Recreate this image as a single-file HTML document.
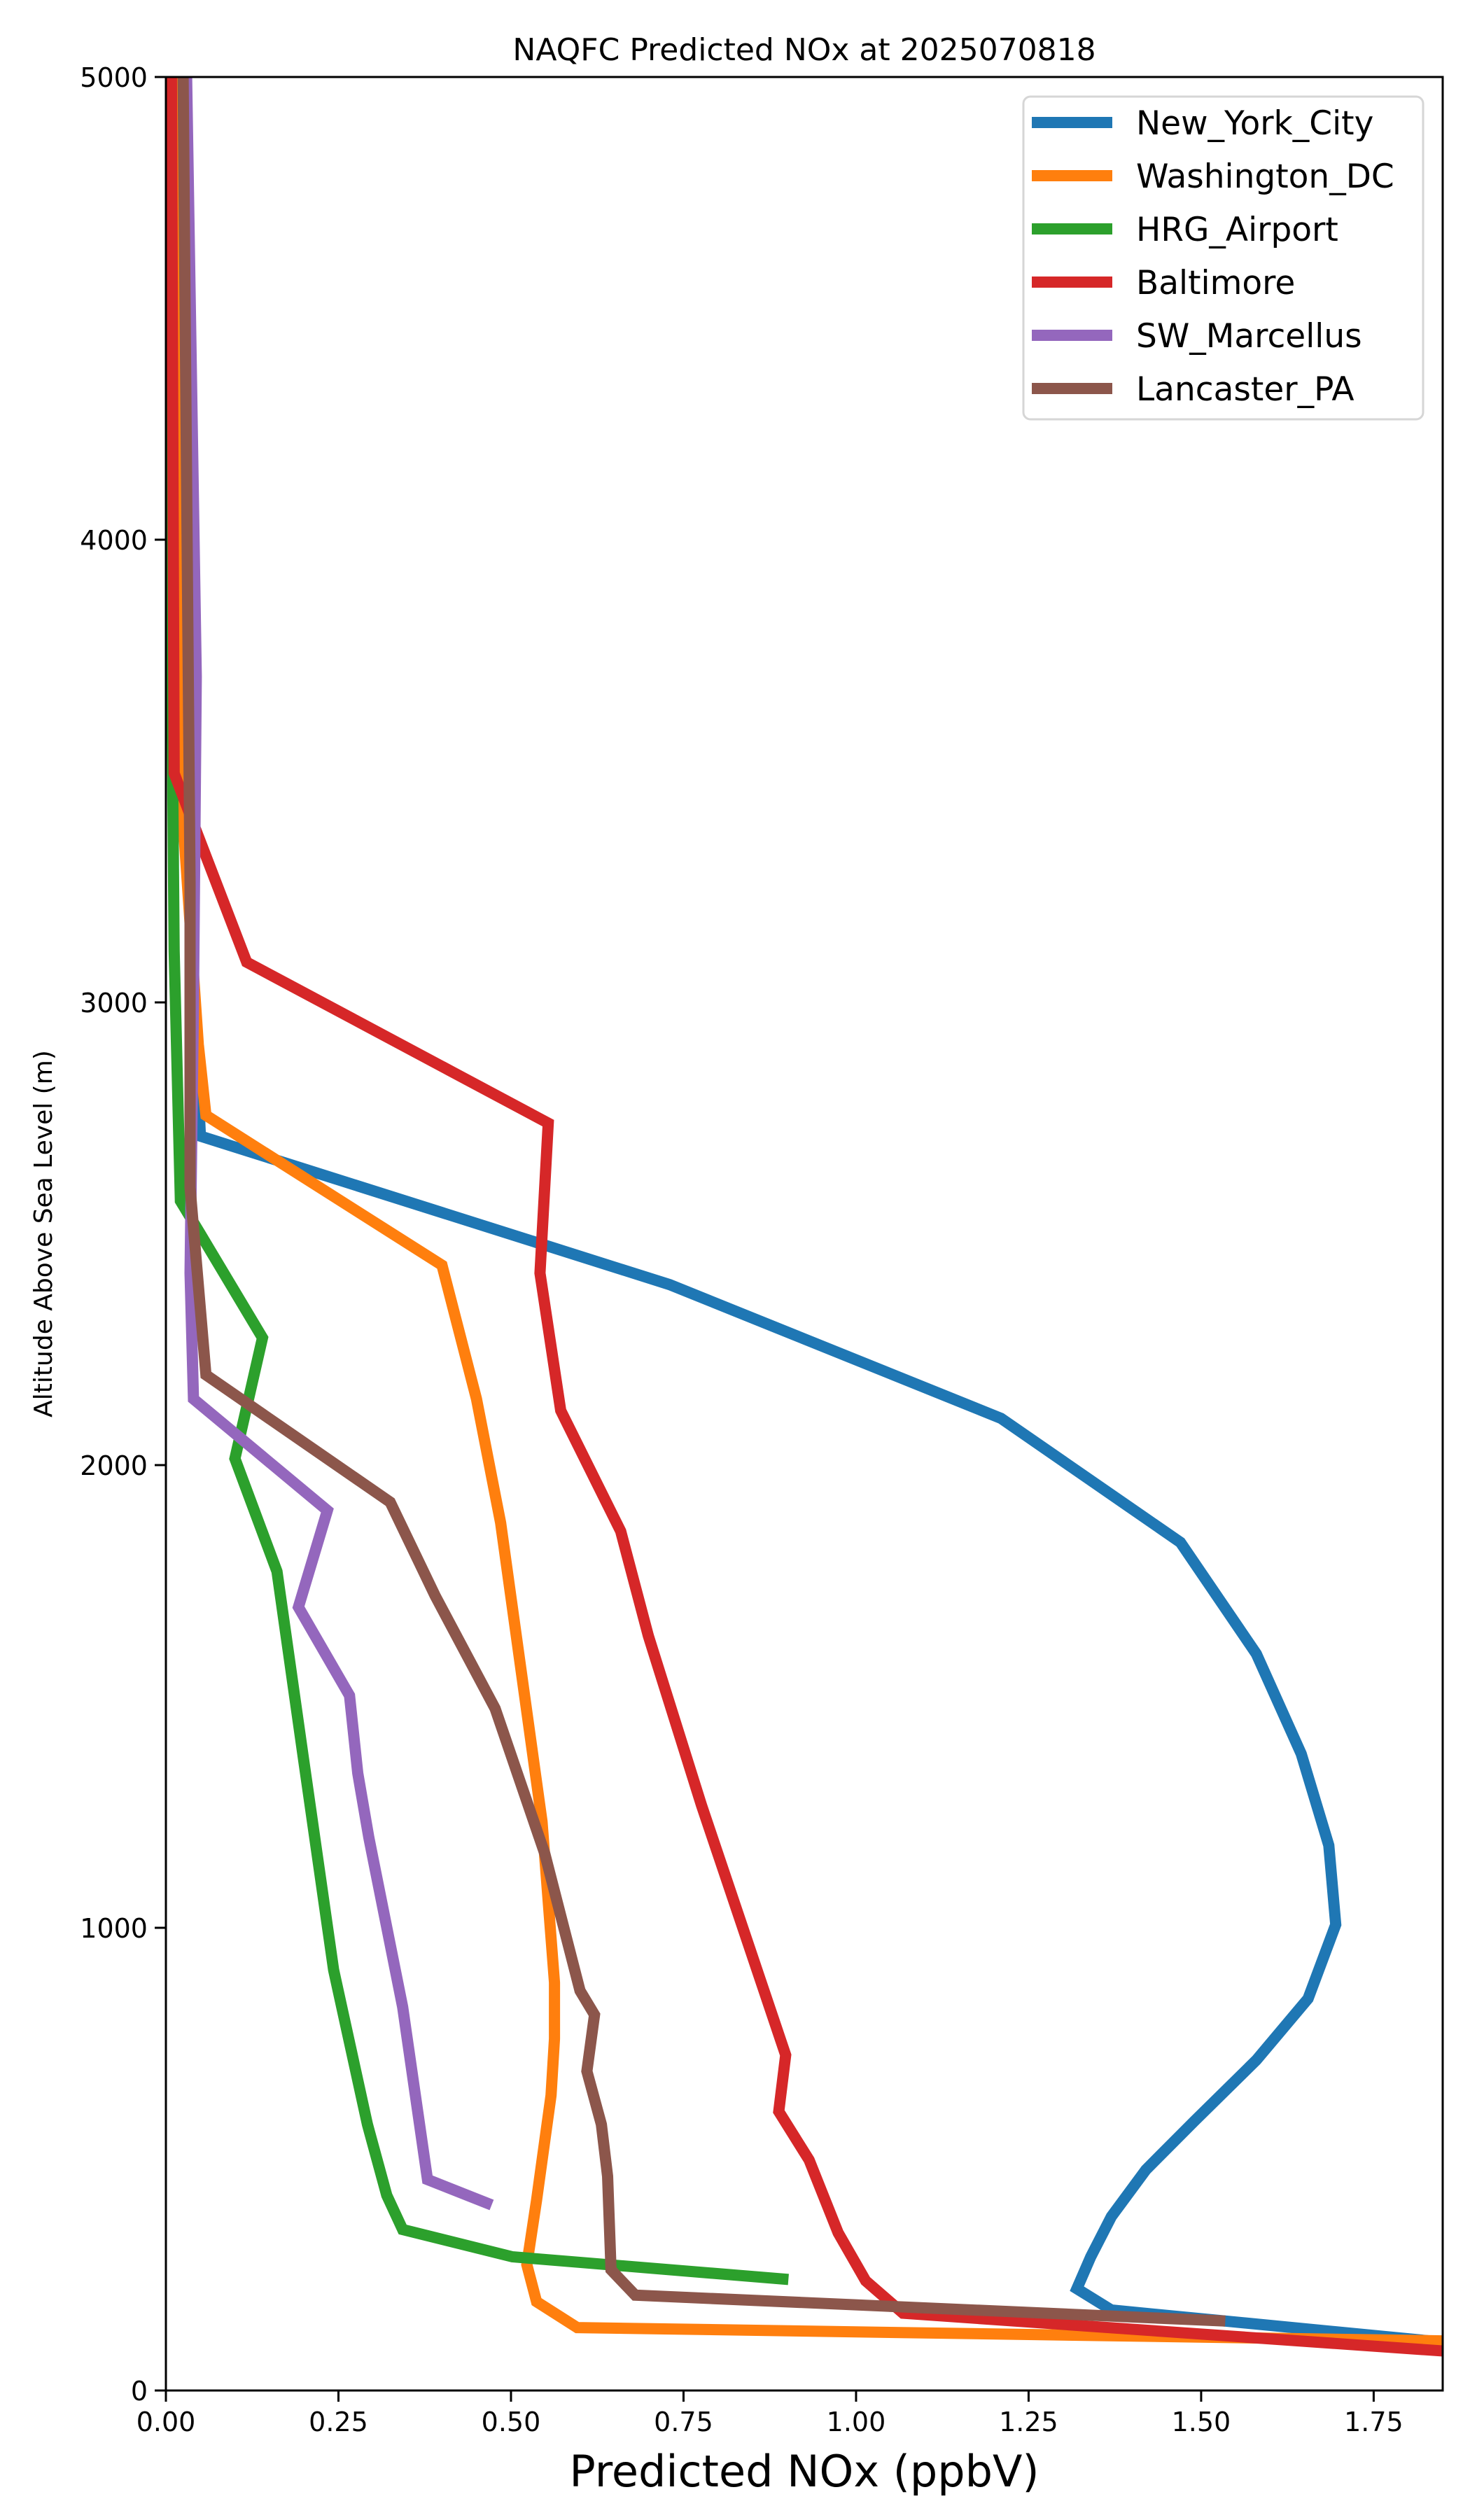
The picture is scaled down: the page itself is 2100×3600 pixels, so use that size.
<!DOCTYPE html>
<html><head><meta charset="utf-8"><style>body{margin:0;background:#fff}svg{display:block}text{font-family:"DejaVu Sans","Liberation Sans",sans-serif}</style></head>
<body>
<svg id="chart" width="2100" height="3600" xmlns="http://www.w3.org/2000/svg">
<g id="plot"></g>
</svg>
<script>
const seriesNames = ["New_York_City","Washington_DC","HRG_Airport","Baltimore","SW_Marcellus","Lancaster_PA"];
const seriesColors = ["#1f77b4","#ff7f0e","#2ca02c","#d62728","#9467bd","#8c564b"];
const nycX = [0.02,0.025,0.05,0.73,1.21,1.47,1.58,1.645,1.685,1.695,1.655,1.58,1.49,1.42,1.37,1.34,1.32,1.37,1.95];
const nycY = [5000,3500,2711,2390,2101,1833,1592,1376,1178,1007,847,714,582,477,376,289,220,174,90];
const dcX = [0.015,0.02,0.047,0.058,0.40,0.45,0.485,0.545,0.563,0.563,0.558,0.537,0.523,0.537,0.596,1.95];
const dcY = [5000,3500,2909,2756,2432,2143,1875,1230,882,760,638,411,272,192,136,105];
const hrgX = [0.005,0.01,0.012,0.021,0.049,0.14,0.10,0.161,0.199,0.243,0.292,0.32,0.343,0.502,0.902];
const hrgY = [5000,3450,3111,2571,2502,2275,2014,1770,1369,909,575,422,348,289,240];
const balX = [0.008,0.012,0.117,0.554,0.542,0.572,0.659,0.699,0.776,0.898,0.888,0.932,0.974,1.014,1.068,1.95];
const balY = [5000,3495,3087,2739,2415,2118,1857,1631,1265,725,603,498,341,237,167,75];
const swmX = [0.03,0.044,0.04,0.035,0.04,0.234,0.192,0.266,0.278,0.294,0.343,0.379,0.472];
const swmY = [5000,3704,3000,2415,2143,1902,1693,1502,1334,1195,829,456,401];
const lanX = [0.025,0.035,0.035,0.058,0.325,0.39,0.477,0.549,0.60,0.621,0.61,0.631,0.64,0.645,0.68,1.535];
const lanY = [5000,3258,2600,2195,1920,1718,1474,1160,864,812,690,575,463,261,206,150];
const xTicks = [0,0.25,0.5,0.75,1.0,1.25,1.5,1.75];
const xTickLabels = ["0.00","0.25","0.50","0.75","1.00","1.25","1.50","1.75"];
const yTicks = [0,1000,2000,3000,4000,5000];
const yTickLabels = ["0","1000","2000","3000","4000","5000"];

const L=237,R=2061,T=110,B=3415,XMAX=1.85,YMAX=5000;
const sx=v=>L+(v/XMAX)*(R-L);
const sy=v=>B-(v/YMAX)*(B-T);
const NS="http://www.w3.org/2000/svg";
const svg=document.getElementById('chart');
function mk(tag,attrs,parent){const e=document.createElementNS(NS,tag);for(const k in attrs)e.setAttribute(k,attrs[k]);(parent||svg).appendChild(e);return e;}
const defs=mk('defs',{});
const cp=mk('clipPath',{id:'clip'},defs);
mk('rect',{x:L,y:T,width:R-L,height:B-T},cp);
const g=mk('g',{'clip-path':'url(#clip)'});


const allX=[nycX,dcX,hrgX,balX,swmX,lanX];
const allY=[nycY,dcY,hrgY,balY,swmY,lanY];
allX.forEach((xs,i)=>{
  const d=xs.map((x,j)=>(j?'L':'M')+sx(x).toFixed(1)+','+sy(allY[i][j]).toFixed(1)).join('');
  const p=mk('path',{d:d,fill:'none',stroke:seriesColors[i],'stroke-width':16,'stroke-linejoin':'miter','stroke-linecap':'butt'},g);
  
  
});
const frame=mk('rect',{x:L,y:T,width:R-L,height:B-T,fill:'none',stroke:'#000','stroke-width':3});


xTicks.forEach((v,i)=>{
  const t=mk('line',{x1:sx(v),x2:sx(v),y1:B,y2:B+16,stroke:'#000','stroke-width':3});
  
  
  const tx=mk('text',{x:sx(v),y:B+58,'font-size':38,'text-anchor':'middle'});
  
  
  tx.textContent=xTickLabels[i];
});
yTicks.forEach((v,i)=>{
  const t=mk('line',{x1:L-16,x2:L,y1:sy(v),y2:sy(v),stroke:'#000','stroke-width':3});
  
  
  const tx=mk('text',{x:L-26,y:sy(v)+14,'font-size':38,'text-anchor':'end'});
  
  
  tx.textContent=yTickLabels[i];
});
const title=mk('text',{x:(L+R)/2,y:86,'font-size':44,'text-anchor':'middle'});


title.textContent='NAQFC Predicted NOx at 2025070818';
const xl=mk('text',{x:(L+R)/2,y:3552,'font-size':62,'text-anchor':'middle'});


xl.textContent='Predicted NOx (ppbV)';
const yl=mk('text',{x:0,y:0,'font-size':36,'text-anchor':'middle',transform:'translate(74,'+((T+B)/2)+') rotate(-90)'});


yl.textContent='Altitude Above Sea Level (m)';
const lg=mk('g',{});


mk('rect',{x:1462,y:138,width:571,height:461,rx:10,fill:'#fff','fill-opacity':0.8,stroke:'#d6d6d6','stroke-width':3},lg);
seriesNames.forEach((n,i)=>{
  const y=175+i*76;
  const e=mk('g',{},lg);
  
  
  mk('line',{x1:1474,x2:1589,y1:y,y2:y,stroke:seriesColors[i],'stroke-width':16},e);
  const t=mk('text',{x:1623,y:y+17,'font-size':47},e);
  t.textContent=n;
});
</script>
</body></html>
